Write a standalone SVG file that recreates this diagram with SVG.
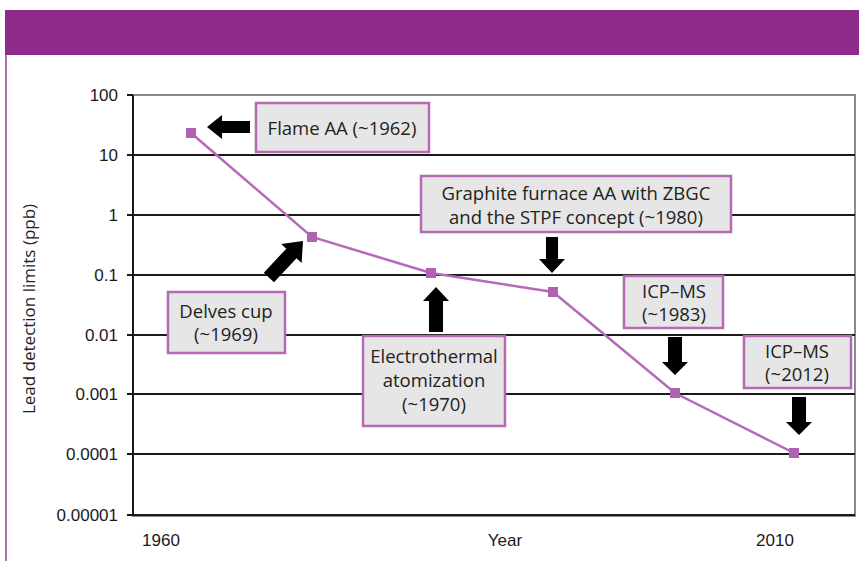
<svg xmlns="http://www.w3.org/2000/svg" width="859" height="561" viewBox="0 0 859 561">
<style>
.grid{stroke:#1a1a1a;stroke-width:2}
.tick{font-family:"Liberation Sans",Arial,sans-serif;font-size:17px;fill:#1a1a1a;text-anchor:end}
.xl{font-family:"Liberation Sans",Arial,sans-serif;font-size:17px;fill:#1a1a1a;text-anchor:middle}
.box{fill:#e6e6e6;stroke:#b36ab3;stroke-width:2.5}
.lbl{font-family:"Open Sans","Noto Sans",sans-serif;font-size:18.5px;fill:#222;text-anchor:middle}
.ttl{font-family:"Open Sans","Noto Sans",sans-serif;font-size:17px;fill:#222;text-anchor:middle}
.arrow{fill:#000}
.pt{fill:#b061b0}
</style>
<rect x="0" y="0" width="859" height="561" fill="#fff"/>
<rect x="5" y="10" width="854" height="45" fill="#8d2a8a"/>
<line x1="6" y1="55" x2="6" y2="561" stroke="#b46db4" stroke-width="2"/>
<g id="axes">
<rect x="133" y="95" width="722" height="421" fill="none" stroke="#8a8a8a" stroke-width="2"/>
<line class="grid" x1="133" y1="155" x2="855" y2="155"/>
<line class="grid" x1="133" y1="215" x2="855" y2="215"/>
<line class="grid" x1="133" y1="275" x2="855" y2="275"/>
<line class="grid" x1="133" y1="335" x2="855" y2="335"/>
<line class="grid" x1="133" y1="394" x2="855" y2="394"/>
<line class="grid" x1="133" y1="454" x2="855" y2="454"/>
<line class="grid" x1="133" y1="515" x2="855" y2="515"/>
<line class="grid" x1="133" y1="95" x2="133" y2="516"/>
<path class="grid" d="M127,95H133M127,155H133M127,215H133M127,275H133M127,335H133M127,394H133M127,454H133M127,515H133"/>
<text class="tick" x="118" y="101">100</text>
<text class="tick" x="118" y="161">10</text>
<text class="tick" x="118" y="221">1</text>
<text class="tick" x="118" y="281">0.1</text>
<text class="tick" x="118" y="341">0.01</text>
<text class="tick" x="118" y="400">0.001</text>
<text class="tick" x="118" y="460">0.0001</text>
<text class="tick" x="118" y="521">0.00001</text>
<text class="xl" x="161" y="546">1960</text>
<text class="xl" x="505" y="546">Year</text>
<text class="xl" x="775" y="546">2010</text>
<text class="ttl" transform="translate(35,309) rotate(-90)">Lead detection limits (ppb)</text>
</g>
<g id="series">
<polyline points="191,133 312,237 431,273 553,292 675,393 794,453" fill="none" stroke="#b868b8" stroke-width="2.5"/>
<rect class="pt" x="186" y="128" width="10" height="10"/>
<rect class="pt" x="307" y="232" width="10" height="10"/>
<rect class="pt" x="426" y="268" width="10" height="10"/>
<rect class="pt" x="548" y="287" width="10" height="10"/>
<rect class="pt" x="670" y="388" width="10" height="10"/>
<rect class="pt" x="789" y="448" width="10" height="10"/>
</g>
<g id="connectors">
<path class="arrow" transform="translate(207,127) rotate(90)" d="M-6,-43H6V-15H12L0,0L-12,-15H-6Z"/>
<path class="arrow" transform="translate(303,241) rotate(-137)" d="M-7,-50H7V-17H14L0,0L-14,-17H-7Z"/>
<path class="arrow" transform="translate(436,287) rotate(180)" d="M-7,-45H7V-14H13L0,0L-13,-14H-7Z"/>
<path class="arrow" transform="translate(552,273)" d="M-6,-36H6V-14H13L0,0L-13,-14H-6Z"/>
<path class="arrow" transform="translate(675,375)" d="M-7,-38H7V-13H13L0,0L-13,-13H-7Z"/>
<path class="arrow" transform="translate(799,435)" d="M-7,-38H7V-13H13L0,0L-13,-13H-7Z"/>
</g>
<g id="flame">
<rect class="box" x="256" y="103" width="173" height="49"/>
<text class="lbl" x="342" y="135">Flame AA (~1962)</text>
</g>
<g id="delves">
<rect class="box" x="168" y="292" width="117" height="61"/>
<text class="lbl" x="226" y="318">Delves cup</text>
<text class="lbl" x="226" y="341">(~1969)</text>
</g>
<g id="electro">
<rect class="box" x="363" y="336" width="142" height="90"/>
<text class="lbl" x="434" y="363">Electrothermal</text>
<text class="lbl" x="434" y="387">atomization</text>
<text class="lbl" x="434" y="411">(~1970)</text>
</g>
<g id="graphite">
<rect class="box" x="421" y="176" width="310" height="56"/>
<text class="lbl" x="576" y="200">Graphite furnace AA with ZBGC</text>
<text class="lbl" x="576" y="224">and the STPF concept (~1980)</text>
</g>
<g id="icpms1983">
<rect class="box" x="624" y="276" width="99" height="52"/>
<text class="lbl" x="674" y="298">ICP–MS</text>
<text class="lbl" x="674" y="321">(~1983)</text>
</g>
<g id="icpms2012">
<rect class="box" x="744" y="336" width="107" height="52"/>
<text class="lbl" x="797" y="358">ICP–MS</text>
<text class="lbl" x="797" y="381">(~2012)</text>
</g>
</svg>
